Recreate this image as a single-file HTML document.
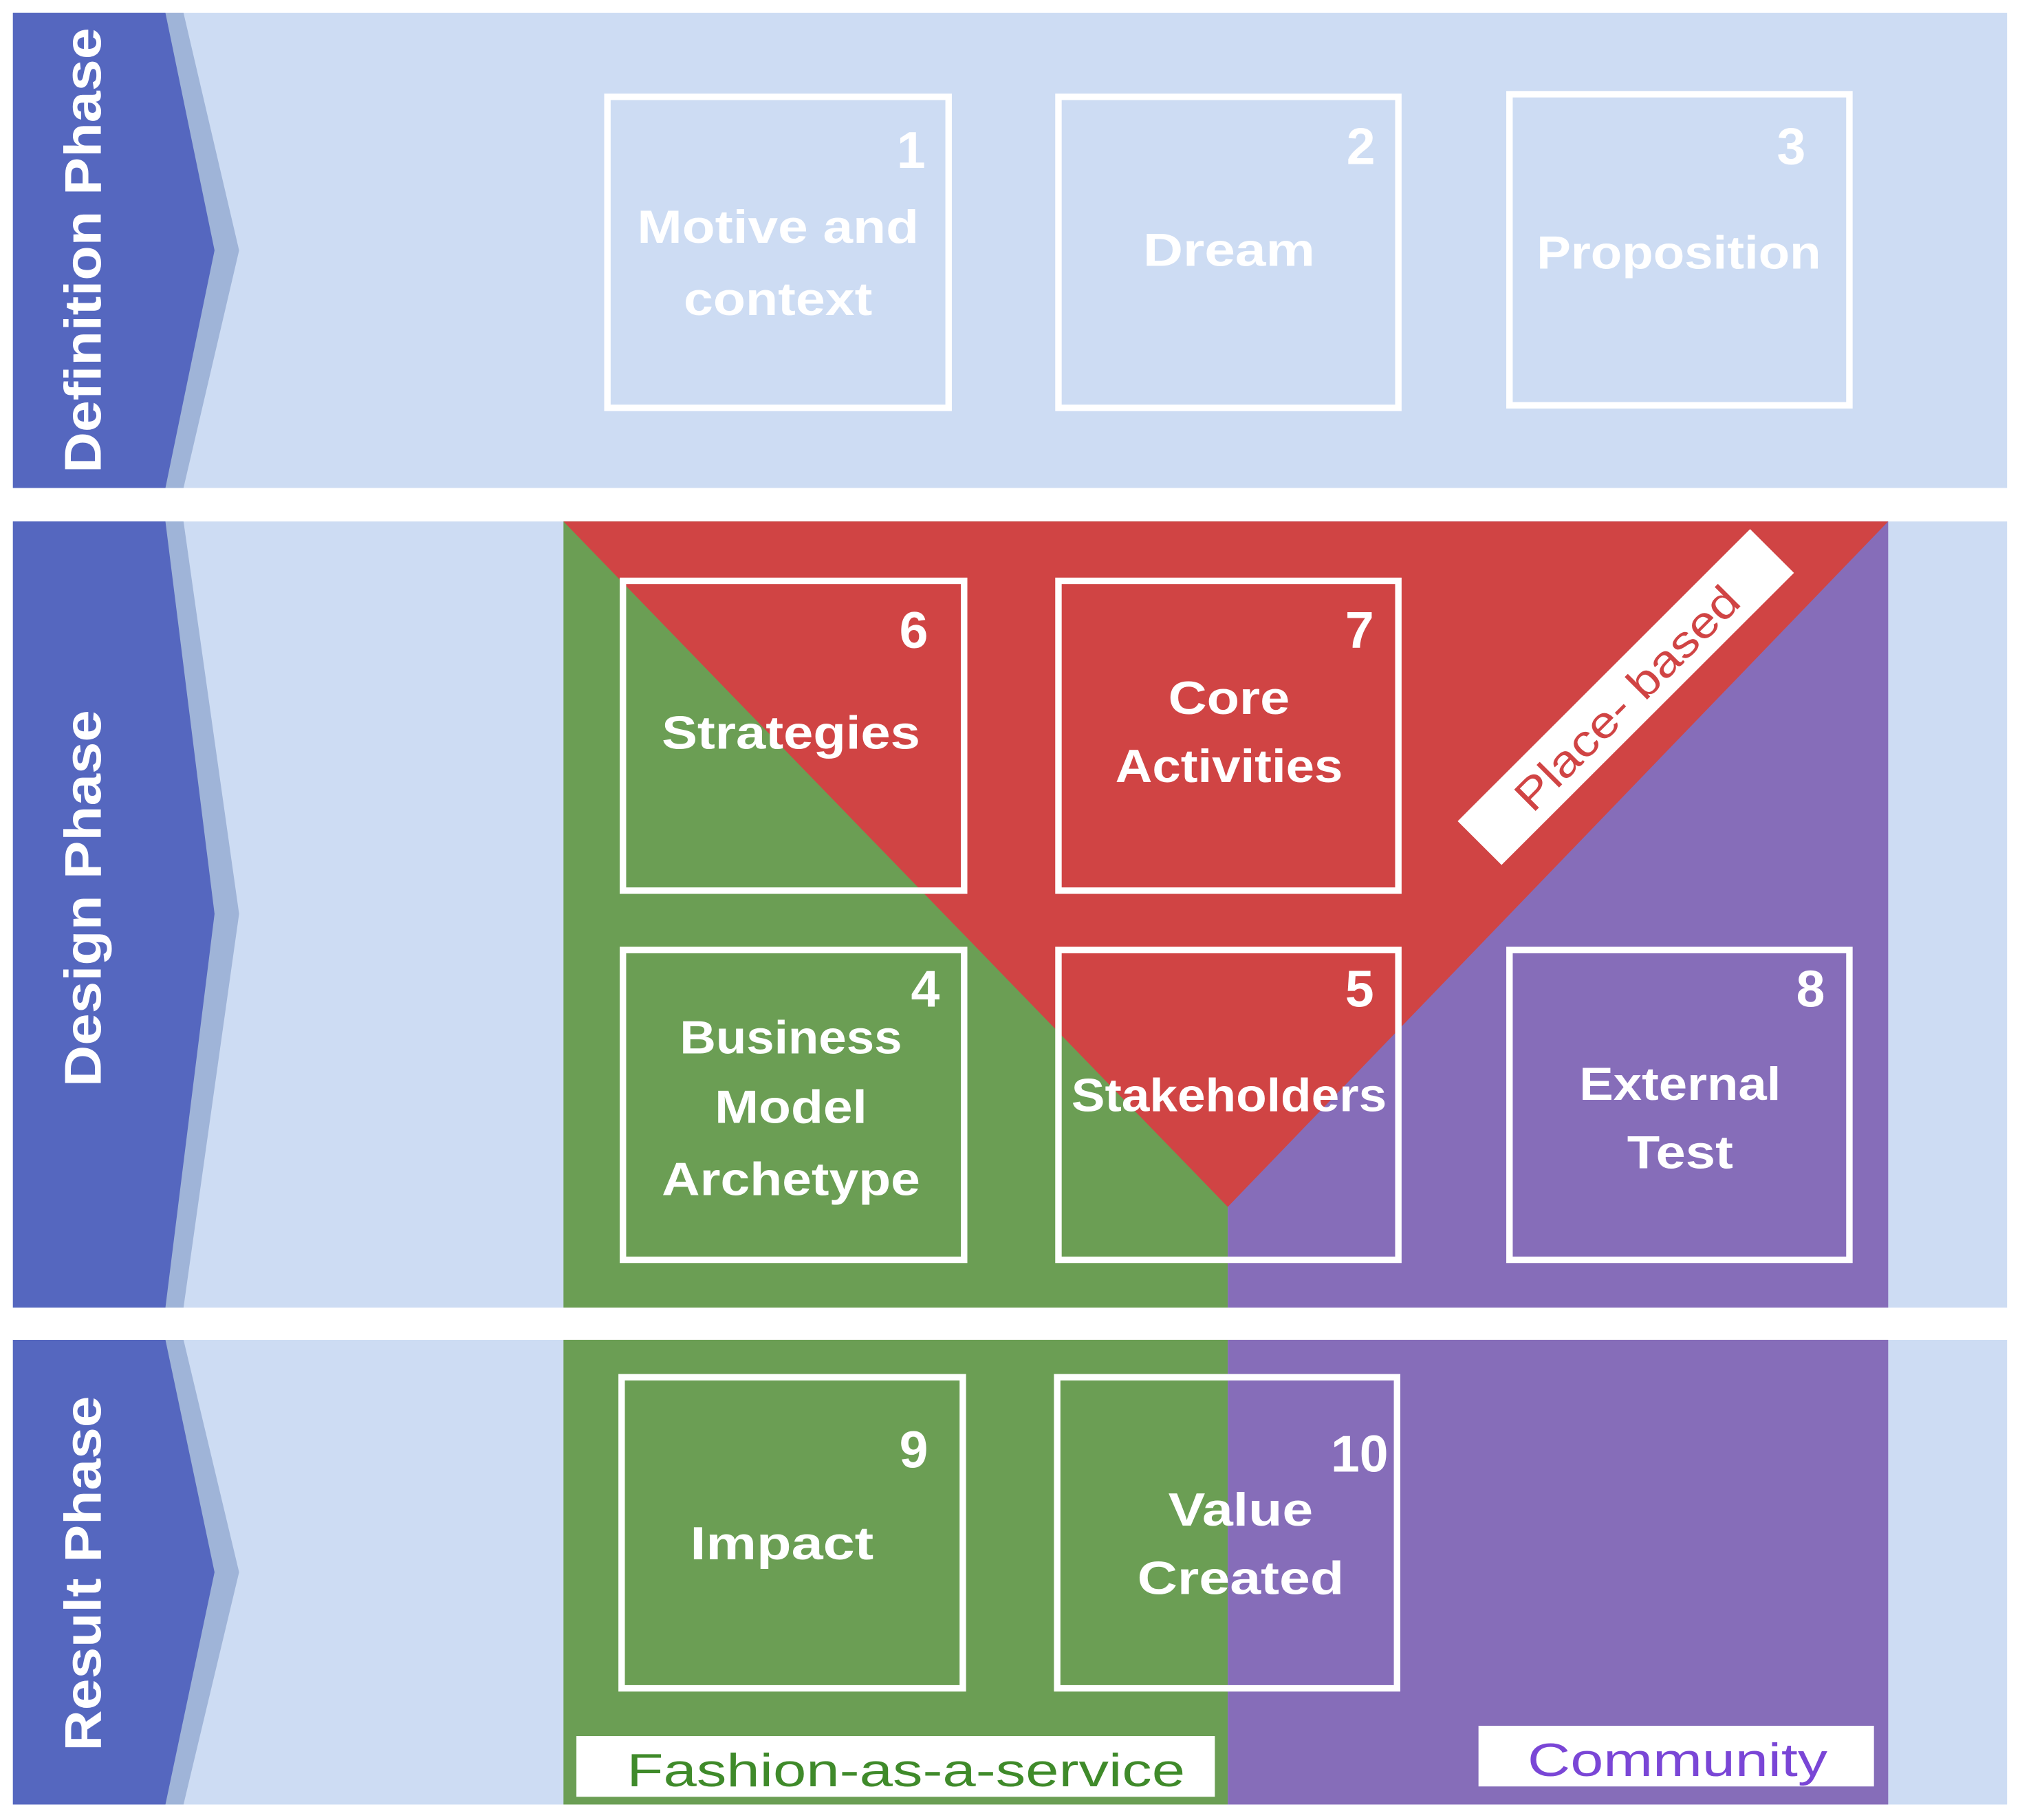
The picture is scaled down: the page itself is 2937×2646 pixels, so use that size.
<!DOCTYPE html>
<html><head><meta charset="utf-8"><style>
html,body{margin:0;padding:0;background:#fff;}
svg{display:block;}
text{font-family:"Liberation Sans",Arial,sans-serif;font-weight:bold;fill:#fff;}
</style></head><body>
<svg width="2937" height="2646" viewBox="0 0 1563 1410" preserveAspectRatio="none" xmlns="http://www.w3.org/2000/svg">
<rect x="0" y="0" width="1563" height="1410" fill="#fff"/>
<!-- bands -->
<rect x="10" y="10" width="1543" height="368" fill="#cddcf3"/>
<rect x="10" y="404" width="1543" height="609" fill="#cddcf3"/>
<rect x="10" y="1038" width="1543" height="360" fill="#cddcf3"/>
<!-- arrows -->
<g>
<polygon points="10,10 142,10 185,194 142,378 10,378" fill="#9fb4d8"/>
<polygon points="10,10 128,10 166,194 128,378 10,378" fill="#5567bf"/>
<polygon points="10,404 142,404 185,708 142,1013 10,1013" fill="#9fb4d8"/>
<polygon points="10,404 128,404 166,708 128,1013 10,1013" fill="#5567bf"/>
<polygon points="10,1038 142,1038 185,1218 142,1398 10,1398" fill="#9fb4d8"/>
<polygon points="10,1038 128,1038 166,1218 128,1398 10,1398" fill="#5567bf"/>
</g>
<text transform="translate(78,194) rotate(-90)" text-anchor="middle" font-size="40" textLength="345" lengthAdjust="spacingAndGlyphs">Definition Phase</text>
<text transform="translate(78,696) rotate(-90)" text-anchor="middle" font-size="40" textLength="292" lengthAdjust="spacingAndGlyphs">Design Phase</text>
<text transform="translate(78,1219) rotate(-90)" text-anchor="middle" font-size="40" textLength="275" lengthAdjust="spacingAndGlyphs">Result Phase</text>
<!-- colored regions -->
<rect x="436" y="404" width="514" height="994" fill="#6b9e54"/>
<rect x="950" y="404" width="511" height="994" fill="#866db9"/>
<polygon points="436,404 1461,404 950,935" fill="#d04444"/>
<rect x="10" y="1013" width="1543" height="25" fill="#fff"/>
<!-- place-based label -->
<g transform="translate(1258,540) rotate(-45)">
<rect x="-160" y="-24" width="320" height="48" fill="#fff"/>
<text x="0" y="13" text-anchor="middle" font-size="34" style="fill:#d04444;font-weight:normal" textLength="230" lengthAdjust="spacingAndGlyphs">Place- based</text>
</g>
<!-- boxes -->
<g fill="none" stroke="#fff" stroke-width="5">
<rect x="470" y="75" width="264" height="241"/>
<rect x="819" y="75" width="263" height="241"/>
<rect x="1168" y="73" width="263" height="241"/>
<rect x="482" y="450" width="264" height="240"/>
<rect x="819" y="450" width="263" height="240"/>
<rect x="482" y="736" width="264" height="240"/>
<rect x="819" y="736" width="263" height="240"/>
<rect x="1168" y="736" width="263" height="240"/>
<rect x="481" y="1067" width="264" height="241"/>
<rect x="818" y="1067" width="263" height="241"/>
</g>
<g font-size="40" text-anchor="middle">
<text x="705" y="130">1</text>
<text x="1053" y="127">2</text>
<text x="1386" y="127">3</text>
<text x="707" y="502">6</text>
<text x="1052" y="502">7</text>
<text x="716" y="780">4</text>
<text x="1052" y="780">5</text>
<text x="1401" y="780">8</text>
<text x="707" y="1137">9</text>
<text x="1052" y="1140">10</text>
</g>
<g font-size="36" text-anchor="middle">
<text x="602" y="188" textLength="218" lengthAdjust="spacingAndGlyphs">Motive and</text>
<text x="602" y="244" textLength="146" lengthAdjust="spacingAndGlyphs">context</text>
<text x="951" y="206" textLength="133" lengthAdjust="spacingAndGlyphs">Dream</text>
<text x="1299" y="208" textLength="220" lengthAdjust="spacingAndGlyphs">Proposition</text>
<text x="612" y="580" textLength="200" lengthAdjust="spacingAndGlyphs">Strategies</text>
<text x="951" y="553" textLength="94" lengthAdjust="spacingAndGlyphs">Core</text>
<text x="951" y="606" textLength="176" lengthAdjust="spacingAndGlyphs">Activities</text>
<text x="612" y="816" textLength="172" lengthAdjust="spacingAndGlyphs">Business</text>
<text x="612" y="870" textLength="118" lengthAdjust="spacingAndGlyphs">Model</text>
<text x="612" y="926" textLength="200" lengthAdjust="spacingAndGlyphs">Archetype</text>
<text x="951" y="861" textLength="244" lengthAdjust="spacingAndGlyphs">Stakeholders</text>
<text x="1300" y="852" textLength="156" lengthAdjust="spacingAndGlyphs">External</text>
<text x="1300" y="905" textLength="82" lengthAdjust="spacingAndGlyphs">Test</text>
<text x="605" y="1208" textLength="142" lengthAdjust="spacingAndGlyphs">Impact</text>
<text x="960" y="1182" textLength="112" lengthAdjust="spacingAndGlyphs">Value</text>
<text x="960" y="1235" textLength="160" lengthAdjust="spacingAndGlyphs">Created</text>
</g>
<!-- bottom labels -->
<rect x="446" y="1345" width="494" height="47" fill="#fff"/>
<text x="701" y="1384" text-anchor="middle" font-size="36" style="fill:#3f8a2a;font-weight:normal" textLength="432" lengthAdjust="spacingAndGlyphs">Fashion-as-a-service</text>
<rect x="1144" y="1337" width="306" height="47" fill="#fff"/>
<text x="1298" y="1376" text-anchor="middle" font-size="36" style="fill:#7a46d6;font-weight:normal" textLength="232" lengthAdjust="spacingAndGlyphs">Community</text>
</svg>
</body></html>
